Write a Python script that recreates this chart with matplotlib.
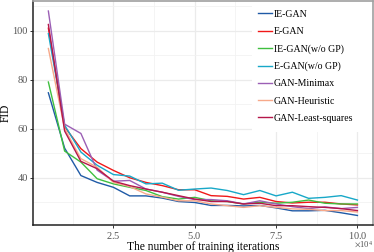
import matplotlib
matplotlib.use("Agg")
import matplotlib.pyplot as plt
from matplotlib.ticker import ScalarFormatter, MultipleLocator
from matplotlib.patches import Rectangle

plt.rcParams['font.family'] = ['Liberation Serif', 'DejaVu Serif']
plt.rcParams['mathtext.fontset'] = 'stix'

iterations = [5000 * i for i in range(1, 21)]

ie_gan = [74.6, 52, 40.8, 38, 36, 32.5, 32.5, 31.6, 30.2, 29.8, 28.6, 28.6, 28.4, 28.6, 27.6, 26.4, 26.4, 26.6, 25.6, 24.5]
e_gan = [101, 60.7, 51.8, 46.3, 42.9, 39.9, 38, 36.7, 35, 35, 32.6, 32.3, 31.2, 31.9, 30.2, 29.6, 29.9, 29.9, 29.2, 28.8]
ie_gan_nogp = [79, 50.8, 46.3, 39.5, 37.4, 36, 34.7, 32.2, 31.2, 31.9, 30.5, 30.2, 29.2, 29.9, 29.5, 29.9, 30.8, 29.5, 29.2, 29.2]
e_gan_nogp = [98.8, 61.4, 50.4, 45, 41.2, 40.6, 37.4, 37.7, 34.8, 35.3, 35.7, 34.7, 33, 34.7, 32.5, 34, 31.5, 31.9, 32.6, 30.8]
gan_minimax = [108, 61.8, 58, 43, 38.5, 38.8, 35.3, 34, 32.3, 31, 31, 30.5, 29.2, 30.5, 29.2, 28.1, 27.3, 28, 27.3, 27.8]
gan_heuristic = [92.7, 60, 47.7, 44.2, 38, 36.3, 33.3, 32, 30.5, 30.5, 29.2, 28.5, 27.8, 28.5, 27.8, 27.2, 27, 26.5, 26.5, 25.9]
gan_ls = [102.5, 59, 46.6, 43.6, 38.5, 36.7, 35.3, 34, 32.6, 31.2, 30.2, 30.2, 29.2, 29.5, 28.5, 28.5, 28.1, 27.8, 27.3, 26.5]

labels = ['IE-GAN', 'E-GAN', 'IE-GAN(w/o GP)', 'E-GAN(w/o GP)', 'GAN-Minimax', 'GAN-Heuristic', 'GAN-Least-squares']
series = [ie_gan, e_gan, ie_gan_nogp, e_gan_nogp, gan_minimax, gan_heuristic, gan_ls]
colors = ['#1f5aa6', '#f01818', '#3fbf3f', '#18a8c8', '#9b5fb5', '#f7a98a', '#b5174a']

fig = plt.figure(figsize=(3.74, 2.52), dpi=100)
ax = fig.add_axes([0.088, 0.109, 0.909, 0.889])

for vals, lab, c in zip(series, labels, colors):
    ax.plot(iterations, vals, color=c, lw=1.0, label=lab, zorder=3)

ax.set_xlim(250, 104750)
ax.set_ylim(20.8, 112.3)
ax.set_xticks([25000, 50000, 75000, 100000])
ax.xaxis.set_minor_locator(MultipleLocator(12500))
ax.set_yticks([40, 60, 80, 100])
ax.yaxis.set_minor_locator(MultipleLocator(10))

fmt = ScalarFormatter(useMathText=True)
fmt.set_powerlimits((4, 4))
ax.xaxis.set_major_formatter(fmt)

ax.grid(True, which='major', color='#ebebeb', lw=0.9, zorder=0)
ax.grid(True, which='minor', color='#f2f2f2', lw=0.6, zorder=0)
ax.set_axisbelow(True)

# white legend background panel
ax.add_patch(Rectangle((0.644, 0.415), 0.36, 0.6, transform=ax.transAxes,
                       facecolor='white', edgecolor='none', zorder=2))

for s in ['top', 'right']:
    ax.spines[s].set_color('#a0a0a0')
    ax.spines[s].set_linewidth(1.2)
for s in ['left', 'bottom']:
    ax.spines[s].set_color('#222222')
    ax.spines[s].set_linewidth(1.1)

ax.tick_params(which='major', length=2.2, width=0.7, color='#333333', labelsize=7.5, labelcolor='#555555', pad=1.5)
ax.tick_params(which='minor', length=0)
off = ax.xaxis.get_offset_text()
off.set_fontsize(6.2)
off.set_color('#555555')
off.set_verticalalignment('center')

ax.set_xlabel('The number of training iterations', fontsize=8.3, labelpad=0.5)
ax.set_ylabel('FID', fontsize=8.3, labelpad=0.3)

leg = ax.legend(loc='upper left', bbox_to_anchor=(0.662, 0.958), fontsize=7.1, frameon=False,
                handlelength=1.45, handletextpad=0.15, labelspacing=0.82,
                borderaxespad=0.0, borderpad=0.0)

fig.savefig('out.png', dpi=100)
